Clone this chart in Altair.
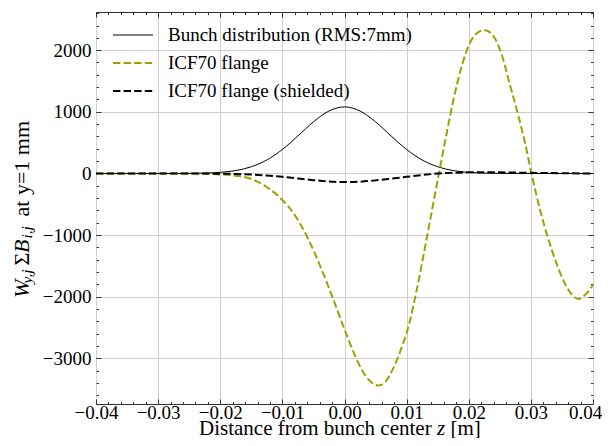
import altair as alt
import pandas as pd

# ---------------- data ----------------
bunch_z = [-0.04, -0.03, -0.025, -0.0225, -0.02, -0.0175, -0.015, -0.0125, -0.01, -0.0075, -0.005, -0.0025, 0.0,
           0.0025, 0.005, 0.0075, 0.01, 0.0125, 0.015, 0.0175, 0.02, 0.0225, 0.025, 0.03, 0.04]
bunch_w = [0, 0, 2, 6, 18, 47, 109, 219, 389, 608, 837, 1013, 1080,
           1013, 837, 608, 389, 219, 109, 47, 18, 6, 2, 0, 0]

flange_z = [-0.04, -0.03, -0.025, -0.0225, -0.02, -0.0175, -0.0158, -0.0142, -0.0126, -0.01, -0.0082, -0.006,
            -0.004, -0.002, 0.0, 0.0015, 0.003, 0.0045, 0.0054, 0.0065, 0.0075, 0.009, 0.0105, 0.0116, 0.0132,
            0.0143, 0.0152, 0.0165, 0.0175, 0.0189, 0.0202, 0.0215, 0.0226, 0.024, 0.0253, 0.0266, 0.028, 0.0291,
            0.0301, 0.0315, 0.0328, 0.0342, 0.0355, 0.0366, 0.0376, 0.039, 0.04]
flange_w = [0, 0, -2, -6, -15, -38, -65, -124, -215, -430, -645, -1030,
            -1480, -1990, -2527, -2910, -3220, -3400, -3440, -3390, -3230, -2880, -2400, -1900, -1070,
            -480, 0, 680, 1180, 1750, 2120, 2290, 2325, 2226, 1930, 1447, 930, 479,
            0, -600, -1060, -1480, -1790, -1965, -2035, -1941, -1806]

shield_z = [-0.04, -0.03, -0.02, -0.0175, -0.015, -0.0125, -0.01, -0.0075, -0.005, -0.0025, 0.0, 0.0025,
            0.005, 0.0075, 0.01, 0.0125, 0.015, 0.0175, 0.02, 0.0225, 0.025, 0.03, 0.035, 0.04]
shield_w = [0, 0, -3, -8, -18, -33, -54, -82, -108, -130, -140, -133,
            -112, -84, -54, -25, -2, 12, 18, 20, 18, 10, 4, 0]

series_names = ["Bunch distribution (RMS:7mm)", "ICF70 flange", "ICF70 flange (shielded)"]

x_ticks = [-0.04, -0.03, -0.02, -0.01, 0.0, 0.01, 0.02, 0.03, 0.04]
y_ticks = [-3000, -2000, -1000, 0, 1000, 2000]
x_minor = [round(-0.04 + 0.002 * i, 3) for i in range(41)]
y_minor = [-3600 + 200 * i for i in range(32)]

# ---------------- layout / style ----------------
W, H = 497, 392
XDOM = [-0.04, 0.04]
YDOM = [-3739, 2619]
SERIF = "Liberation Serif"
OLIVE = "#a0a000"
TICK = "#333333"
DASH = [7.4, 3.2]

bunch_df = pd.DataFrame({"z": bunch_z, "w": bunch_w})
flange_df = pd.DataFrame({"z": flange_z, "w": flange_w})
shield_df = pd.DataFrame({"z": shield_z, "w": shield_w})
dummy = alt.Data(values=[{}])

xs = alt.Scale(domain=XDOM, nice=False, zero=False)
ys = alt.Scale(domain=YDOM, nice=False, zero=False)

main_x_axis = alt.Axis(values=x_ticks, format=".2f", labelFont=SERIF, labelFontSize=19, labelColor="black",
                       ticks=False, domain=False, grid=True, gridColor="#cfcfcf", gridWidth=1,
                       labelPadding=-1, labelFlush=False, labelOverlap=False, title=None,
                       labelOffset=alt.ExprRef("datum.value > 0.035 ? -8 : 0"))
main_y_axis = alt.Axis(values=y_ticks, format="d", labelFont=SERIF, labelFontSize=19, labelColor="black",
                       ticks=False, domain=False, grid=True, gridColor="#cfcfcf", gridWidth=1,
                       labelPadding=5, labelOverlap=False, title=None)


def line_layer(df, color, width, dash=None, xaxis=None, yaxis=None):
    kw = dict(color=color, strokeWidth=width, interpolate="monotone", clip=True)
    if dash:
        kw["strokeDash"] = dash
    return alt.Chart(df).mark_line(**kw).encode(
        x=alt.X("z:Q", scale=xs, axis=xaxis),
        y=alt.Y("w:Q", scale=ys, axis=yaxis),
    )


def tick_layer(xorient, yorient, xv, yv, size):
    return alt.Chart(bunch_df).mark_point(opacity=0).encode(
        x=alt.X("z:Q", scale=xs, axis=alt.Axis(orient=xorient, offset=-H, values=xv, labels=False, domain=False,
                                              grid=False, tickSize=size, tickColor=TICK, tickWidth=1, title=None)),
        y=alt.Y("w:Q", scale=ys, axis=alt.Axis(orient=yorient, offset=-W, values=yv, labels=False, domain=False,
                                              grid=False, tickSize=size, tickColor=TICK, tickWidth=1, title=None)),
    )


def text_layer(txt, x, y, size, angle=0, italic=False):
    kw = dict(text=txt, font=SERIF, fontSize=size, align="left", baseline="alphabetic", color="black")
    if angle:
        kw["angle"] = angle
    if italic:
        kw["fontStyle"] = "italic"
    return alt.Chart(dummy).mark_text(**kw).encode(x=alt.value(x), y=alt.value(y))


layers = [
    line_layer(bunch_df, "black", 1, xaxis=main_x_axis, yaxis=main_y_axis),
    line_layer(flange_df, OLIVE, 2, DASH),
    line_layer(shield_df, "black", 2, DASH),
    tick_layer("top", "right", x_ticks, y_ticks, 5),
    tick_layer("top", "right", x_minor, y_minor, 2.5),
    tick_layer("bottom", "left", x_ticks, y_ticks, 5),
    tick_layer("bottom", "left", x_minor, y_minor, 2.5),
]

# legend
leg_colors = ["black", OLIVE, "black"]
leg_widths = [1, 2, 2]
for i, name in enumerate(series_names):
    yy = 23 + 28 * i
    kw = dict(color=leg_colors[i], strokeWidth=leg_widths[i])
    if i > 0:
        kw["strokeDash"] = DASH
    layers.append(alt.Chart(dummy).mark_rule(**kw).encode(x=alt.value(17), x2=alt.value(57), y=alt.value(yy)))
    layers.append(alt.Chart(dummy).mark_text(text=name, font=SERIF, fontSize=19, align="left", baseline="middle",
                                              color="black").encode(x=alt.value(72), y=alt.value(yy)))

# x-axis title: Distance from bunch center z [m]
TY = 422.5
TF = 21
layers += [
    text_layer("Distance from bunch center", 103, TY, TF),
    text_layer("z", 341, TY, TF, italic=True),
    text_layer("[m]", 354.5, TY, TF),
]

# y-axis title: W_{y,j} ΣB_{i,j} at y=1 mm (rotated)
BX = -67
SX = -64
layers += [
    text_layer("W", BX, 286, 22, angle=270, italic=True),
    text_layer("y,j", SX, 271.5, 15.4, angle=270, italic=True),
    text_layer("Σ", BX, 253.5, 22, angle=270),
    text_layer("B", BX, 241, 22, angle=270, italic=True),
    text_layer("i,j", SX, 226.5, 15.4, angle=270, italic=True),
    text_layer("at y=1 mm", BX, 204.5, 22, angle=270),
]

chart = alt.layer(*layers).resolve_axis(x="independent", y="independent").properties(
    width=W, height=H,
    padding={"left": 88, "top": 4, "right": 9, "bottom": 34},
    autosize=alt.AutoSizeParams(type="none"),
).configure_view(stroke=TICK, strokeWidth=1)

chart.save("out.html", embed_options={"renderer": "svg", "actions": False})
